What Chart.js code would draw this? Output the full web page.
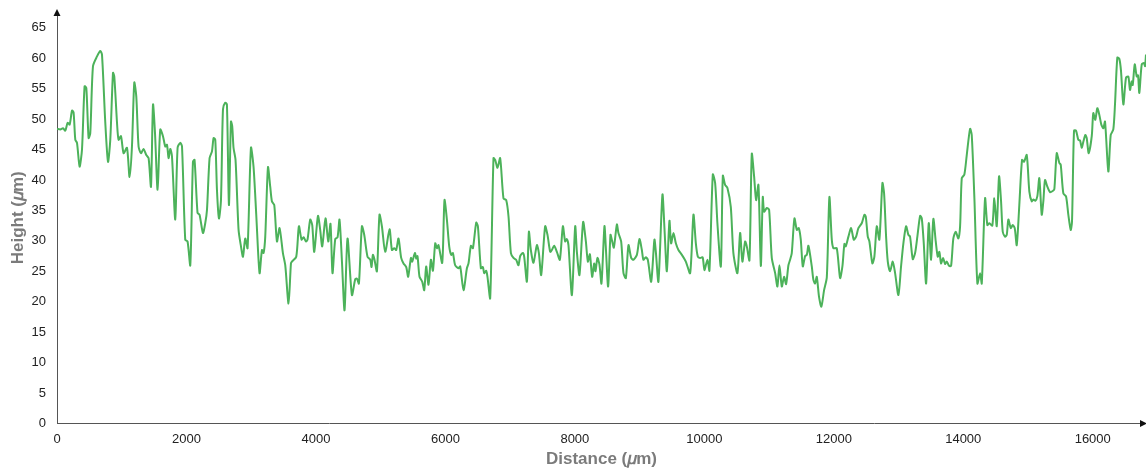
<!DOCTYPE html>
<html>
<head>
<meta charset="utf-8">
<title>Surface profile</title>
<script src="https://cdn.jsdelivr.net/npm/chart.js@4.4.1/dist/chart.umd.min.js"></script>
<style>
  html, body { margin: 0; padding: 0; background: #ffffff; }
  #wrap { width: 1146px; height: 470px; }
</style>
</head>
<body>
<div id="wrap"><canvas id="profileChart" width="1146" height="470"></canvas></div>
<script>
// Scan position along the sample (µm)
const distance = [
    0, 51, 93, 128, 164, 195, 232, 256, 283, 309,
    349, 386, 426, 453, 488, 514, 556, 618, 669, 695,
    746, 788, 823, 865, 885, 927, 951, 988, 1029, 1081,
    1121, 1158, 1194, 1225, 1260, 1297, 1337, 1379, 1415, 1452,
    1483, 1514, 1554, 1595, 1637, 1673, 1699, 1724, 1750,
    1776, 1827, 1863, 1904, 1931, 1981, 2017, 2059, 2100, 2125,
    2171, 2202, 2255, 2290, 2317, 2357, 2394, 2419, 2445, 2471,
    2502, 2533, 2564, 2599, 2625, 2656, 2687, 2707, 2727, 2758,
    2805, 2842, 2873, 2908, 2944, 2996, 3036, 3078, 3129, 3166,
    3191, 3217, 3259, 3294, 3320, 3356, 3398, 3438, 3490, 3526,
    3577, 3614, 3629, 3696, 3737, 3778, 3809, 3846, 3870, 3912,
    3943, 3974, 4031, 4066, 4097, 4148, 4190, 4225, 4256, 4298,
    4334, 4364, 4402, 4442, 4488, 4556, 4607, 4633, 4664, 4710,
    4746, 4797, 4839, 4859, 4880, 4905, 4942, 4982, 5019, 5070,
    5137, 5174, 5209, 5240, 5276, 5317, 5353, 5395, 5425, 5467,
    5487, 5529, 5549, 5569, 5600, 5642, 5673, 5703, 5739, 5776,
    5807, 5843, 5869, 5893, 5951, 5986, 6023, 6059, 6090, 6116,
    6151, 6202, 6229, 6280, 6332, 6357, 6394, 6425, 6476, 6502,
    6548, 6579, 6599, 6630, 6650, 6692, 6743, 6769, 6805, 6846,
    6897, 6939, 6975, 7012, 7052, 7093, 7129, 7155, 7197, 7217,
    7259, 7290, 7320, 7361, 7413, 7444, 7480, 7541, 7577, 7619,
    7645, 7680, 7722, 7768, 7815, 7850, 7876, 7901, 7954, 8005,
    8031, 8071, 8128, 8170, 8201, 8232, 8267, 8298, 8318, 8349,
    8380, 8411, 8457, 8479, 8514, 8550, 8571, 8602, 8649, 8673,
    8715, 8751, 8788, 8828, 8870, 8905, 8958, 8998, 9035, 9059,
    9096, 9127, 9179, 9229, 9251, 9291, 9353, 9384, 9421, 9461,
    9487, 9523, 9560, 9600, 9653, 9714, 9781, 9832, 9869, 9900,
    9935, 9974, 10002, 10048, 10079, 10131, 10167, 10202, 10255, 10286,
    10321, 10357, 10409, 10449, 10511, 10553, 10588, 10630, 10656, 10697,
    10733, 10769, 10800, 10836, 10873, 10903, 10924, 10965, 11001, 11042,
    11094, 11129, 11160, 11197, 11232, 11263, 11299, 11325, 11351, 11392,
    11429, 11459, 11490, 11521, 11557, 11583, 11608, 11660, 11685, 11711,
    11737, 11772, 11808, 11850, 11892, 11932, 11969, 11994, 12046, 12097,
    12133, 12164, 12185, 12226, 12267, 12309, 12345, 12380, 12432, 12473,
    12494, 12525, 12550, 12596, 12627, 12664, 12704, 12751, 12777, 12808,
    12834, 12870, 12911, 12947, 12998, 13039, 13075, 13117, 13152, 13178,
    13220, 13256, 13291, 13333, 13359, 13390, 13426, 13467, 13503, 13538,
    13575, 13606, 13631, 13657, 13688, 13719, 13745, 13781, 13812, 13847,
    13884, 13924, 13951, 13977, 14017, 14054, 14105, 14131, 14172, 14218,
    14260, 14286, 14337, 14372, 14403, 14449, 14480, 14517, 14553, 14584,
    14610, 14646, 14672, 14697, 14734, 14764, 14795, 14826, 14866, 14908,
    14939, 14981, 15021, 15058, 15083, 15114, 15144, 15175, 15212, 15237,
    15263, 15299, 15341, 15382, 15407, 15444, 15484, 15506, 15546, 15588,
    15623, 15660, 15680, 15711, 15742, 15778, 15804, 15830, 15855, 15886,
    15907, 15938, 15985, 16009, 16040, 16071, 16102, 16133, 16164, 16190,
    16241, 16278, 16318, 16344, 16380, 16411, 16437, 16473, 16514, 16550,
    16576, 16602, 16618, 16649, 16680, 16700, 16720, 16757, 16792, 16808,
    16823
];

// Measured surface height at each position (µm)
const height = [
    48.4, 48.3, 48.5, 48.1, 49.4, 49.1, 51.4, 51.1, 46.6, 46.1,
    42.2, 45.0, 55.4, 55.1, 46.9, 47.7, 58.7, 60.3, 61.2, 60.6,
    49.4, 43.0, 46.6, 57.6, 57.0, 49.4, 46.6, 47.2, 44.4, 45.3,
    40.5, 45.5, 56.0, 53.7, 45.5, 44.4, 45.1, 44.1, 43.6, 38.9,
    52.4, 47.7, 38.4, 48.3, 47.2, 45.5, 45.8, 43.6, 45.1,
    43.9, 33.5, 45.3, 46.1, 45.5, 30.2, 29.9, 26.0, 43.0, 43.3,
    34.6, 34.3, 31.3, 32.9, 35.1, 43.6, 44.7, 46.9, 46.6, 38.4,
    33.7, 36.7, 51.6, 52.7, 52.4, 35.9, 49.6, 48.8, 45.3, 43.3,
    31.8, 29.1, 27.4, 30.4, 28.8, 45.3, 42.2, 34.3, 24.7, 28.5,
    28.0, 30.7, 42.1, 38.9, 36.5, 35.9, 29.9, 32.1, 28.0, 26.0,
    19.7, 26.3, 26.6, 27.4, 32.4, 30.2, 30.6, 29.9, 30.2, 33.5,
    32.6, 28.2, 34.1, 31.8, 29.1, 33.7, 29.9, 32.8, 24.7, 30.3,
    30.6, 33.5, 26.6, 18.6, 30.4, 21.1, 23.7, 23.8, 23.0, 32.4,
    31.0, 27.4, 26.9, 25.7, 27.7, 26.9, 25.0, 34.3, 32.4, 28.2,
    31.9, 28.5, 28.8, 28.5, 30.4, 27.2, 26.3, 25.7, 24.1, 27.2,
    26.6, 28.0, 27.1, 27.5, 24.1, 23.3, 21.9, 25.8, 22.8, 26.9,
    25.1, 29.6, 28.8, 29.3, 26.4, 36.7, 33.5, 29.1, 27.7, 28.0,
    26.0, 25.5, 25.8, 21.9, 25.5, 26.3, 29.2, 28.8, 33.0, 32.4,
    25.5, 25.7, 24.7, 25.1, 24.1, 20.6, 43.6, 43.3, 42.0, 43.6,
    37.0, 36.7, 34.0, 28.0, 27.2, 26.9, 26.0, 27.5, 28.0, 27.4,
    23.3, 31.5, 28.5, 26.4, 29.3, 28.0, 24.4, 32.4, 31.0, 28.2,
    28.5, 29.2, 28.2, 26.9, 32.4, 29.9, 30.3, 29.3, 21.1, 32.4,
    28.2, 24.4, 33.1, 29.9, 26.6, 27.8, 24.1, 26.3, 25.0, 27.2,
    26.1, 23.0, 32.4, 28.8, 22.5, 31.0, 30.2, 28.9, 32.7, 31.3,
    29.9, 24.7, 23.9, 29.3, 27.2, 26.9, 27.7, 30.3, 28.5, 26.9,
    27.3, 26.9, 23.3, 30.2, 28.2, 23.3, 37.6, 32.1, 25.0, 33.3,
    29.6, 31.3, 29.6, 28.5, 27.7, 26.6, 24.7, 34.3, 29.6, 27.4,
    27.2, 27.3, 25.2, 26.9, 25.1, 40.9, 39.5, 32.9, 25.8, 40.7,
    39.2, 38.7, 35.6, 28.0, 24.7, 31.3, 26.6, 29.9, 29.1, 26.8,
    44.3, 40.6, 36.7, 39.2, 25.9, 37.2, 34.8, 35.4, 35.1, 27.2,
    24.7, 22.5, 26.0, 22.5, 24.1, 22.9, 26.0, 26.9, 28.0, 33.7,
    31.8, 32.1, 30.2, 25.8, 27.5, 27.7, 29.2, 25.8, 23.6, 23.0,
    24.1, 20.8, 19.2, 21.9, 24.0, 37.2, 30.2, 28.8, 28.8, 23.9,
    25.8, 29.5, 29.1, 30.7, 32.1, 30.2, 30.7, 32.1, 32.9, 34.3,
    34.0, 30.7, 29.9, 26.3, 27.4, 32.4, 30.2, 39.5, 37.8, 30.7,
    26.6, 25.0, 26.6, 24.7, 21.1, 25.8, 29.6, 32.4, 31.0, 30.7,
    27.0, 28.0, 30.7, 34.1, 33.7, 29.6, 23.0, 32.9, 26.9, 33.6,
    29.9, 27.4, 28.2, 26.3, 27.2, 26.2, 26.6, 25.9, 25.9, 30.4,
    31.5, 30.4, 32.4, 40.3, 40.9, 44.1, 48.4, 47.4, 37.0, 23.0,
    24.7, 23.0, 37.0, 32.6, 32.9, 32.5, 37.0, 32.4, 40.6, 36.5,
    31.5, 30.7, 31.0, 33.5, 32.1, 32.6, 32.1, 29.3, 35.9, 43.3,
    43.0, 44.1, 38.1, 36.5, 36.8, 36.6, 37.3, 40.3, 34.3, 36.5,
    40.0, 38.9, 38.0, 38.2, 38.5, 44.4, 42.8, 42.5, 37.8, 37.3,
    34.3, 31.8, 33.2, 48.1, 48.1, 46.6, 46.5, 45.3, 46.3, 47.4,
    46.9, 44.4, 47.2, 51.0, 49.9, 51.8, 50.7, 49.1, 48.5, 49.6,
    41.4, 47.4, 48.3, 52.4, 60.1, 59.9, 57.9, 52.4, 56.8, 57.0,
    54.8, 56.2, 55.6, 59.0, 57.0, 57.2, 54.3, 59.0, 59.2, 58.7,
    60.6
];

// Axis tick positions
const xTicks = [0, 2000, 4000, 6000, 8000, 10000, 12000, 14000, 16000];
const yTicks = [0, 5, 10, 15, 20, 25, 30, 35, 40, 45, 50, 55, 60, 65];

const xTitle = "Distance (\u{1D707}m)";
const yTitle = "Height (\u{1D707}m)";

const fontFamily = "'Liberation Sans', Arial, Helvetica, sans-serif";
const lineColor = "#4cb25a";
const axisColor = "#555555";

// small arrow heads at the ends of both axes
const axisArrows = {
    id: "axisArrows",
    afterDraw(chart) {
        const { ctx, chartArea } = chart;
        ctx.save();
        ctx.fillStyle = "#111111";
        // up arrow on the y axis
        ctx.beginPath();
        ctx.moveTo(chartArea.left, chartArea.top - 3);
        ctx.lineTo(chartArea.left - 3.5, chartArea.top + 4);
        ctx.lineTo(chartArea.left + 3.5, chartArea.top + 4);
        ctx.closePath();
        ctx.fill();
        // right arrow on the x axis
        ctx.beginPath();
        ctx.moveTo(chartArea.right + 1, chartArea.bottom);
        ctx.lineTo(chartArea.right - 6, chartArea.bottom - 3.5);
        ctx.lineTo(chartArea.right - 6, chartArea.bottom + 3.5);
        ctx.closePath();
        ctx.fill();
        ctx.restore();
    }
};

document.addEventListener("DOMContentLoaded", () => {
    const ctx = document.getElementById("profileChart").getContext("2d");

    const points = distance.map((d, i) => ({ x: d, y: height[i] }));

    new Chart(ctx, {
        type: "line",
        data: {
            datasets: [{
                label: "Height",
                data: points,
                borderColor: lineColor,
                borderWidth: 2,
                pointRadius: 0,
                fill: false,
                tension: 0.25
            }]
        },
        options: {
            responsive: false,
            animation: false,
            layout: {
                padding: { top: 12, right: 0, bottom: 0, left: 0 }
            },
            plugins: {
                legend: { display: false },
                tooltip: { enabled: false }
            },
            scales: {
                x: {
                    type: "linear",
                    min: 0,
                    max: distance[distance.length - 1],
                    border: { display: true, color: axisColor, width: 1 },
                    grid: { display: false, drawTicks: false },
                    afterBuildTicks: (scale) => {
                        scale.ticks = xTicks.map((v) => ({ value: v }));
                    },
                    ticks: {
                        autoSkip: false,
                        maxRotation: 0,
                        padding: 8,
                        color: "#222222",
                        font: { family: fontFamily, size: 13 },
                        callback: (v) => String(v)
                    },
                    title: {
                        display: true,
                        text: xTitle,
                        color: "#7b7b7b",
                        font: { family: fontFamily, size: 17, weight: "bold" },
                        padding: { top: 0, bottom: 0 }
                    },
                    afterFit: (scale) => {
                        scale.height = 46.5;
                        scale.paddingRight = 0;
                    }
                },
                y: {
                    min: 0,
                    max: 67.6,
                    border: { display: true, color: axisColor, width: 1 },
                    grid: { display: false, drawTicks: false },
                    afterBuildTicks: (scale) => {
                        scale.ticks = yTicks.map((v) => ({ value: v }));
                    },
                    ticks: {
                        autoSkip: false,
                        padding: 11,
                        color: "#222222",
                        font: { family: fontFamily, size: 13 },
                        callback: (v) => String(v)
                    },
                    title: {
                        display: true,
                        text: yTitle,
                        color: "#7b7b7b",
                        font: { family: fontFamily, size: 17, weight: "bold" },
                        padding: { top: 8, bottom: 0 }
                    },
                    afterFit: (scale) => {
                        scale.width = 57;
                        // the top label has plenty of room below the axis end
                        scale.paddingTop = 0;
                        scale.paddingBottom = 0;
                    }
                }
            }
        },
        plugins: [axisArrows]
    });
});
</script>
</body>
</html>
